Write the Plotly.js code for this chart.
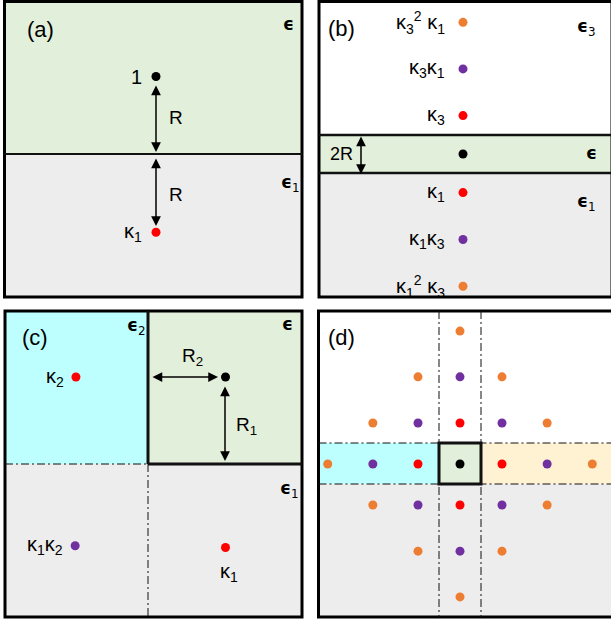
<!DOCTYPE html>
<html>
<head>
<meta charset="utf-8">
<script src="https://cdn.plot.ly/plotly-3.0.1.min.js"></script>
<style>html,body{margin:0;padding:0;background:#fff;}#chart{width:611px;height:622px;}</style>
</head>
<body>
<div id="chart"></div>
<script>
// ---------------- data ----------------
// panel (a): source and image along the normal, in units of R
const aX = [0, 0];
const aY = [1, -1.01];
const aOrder = [0, 1];
const aLabels = ["1", "κ<sub>1</sub>"];

// panel (b): images in a slab of thickness 2R, in units of R
const bX = [0, 0, 0, 0, 0, 0, 0];
const bY = [6.93, 4.48, 2.02, 0, -2.03, -4.5, -6.96];
const bOrder = [3, 2, 1, 0, 1, 2, 3];
const bLabels = ["κ<sub>3</sub><sup>2</sup> κ<sub>1</sub>", "κ<sub>3</sub>κ<sub>1</sub>", "κ<sub>3</sub>", "",
                 "κ<sub>1</sub>", "κ<sub>1</sub>κ<sub>3</sub>", "κ<sub>1</sub><sup>2</sup> κ<sub>3</sub>"];

// panel (c): corner geometry, x in units of R2, y in units of R1
const cX = [1, -0.93, -0.94, 1];
const cY = [1, 1, -0.94, -0.96];
const cOrder = [0, 1, 2, 1];
const cLabels = ["", "κ<sub>2</sub>", "κ<sub>1</sub>κ<sub>2</sub>", "κ<sub>1</sub>"];

// panel (d): image lattice, in units of half the strip width
const dX = [0,
            -2, 0, 2,
            -4.15, -2, 0, 2, 4.15,
            -6.3, -4.15, -2, 0, 2, 4.15, 6.3,
            -4.15, -2, 0, 2, 4.15,
            -2, 0, 2,
            0];
const dY = [6.33,
            4.15, 4.15, 4.15,
            1.95, 1.95, 1.95, 1.95, 1.95,
            0, 0, 0, 0, 0, 0, 0,
            -1.95, -1.95, -1.95, -1.95, -1.95,
            -4.15, -4.15, -4.15,
            -6.33];
const dOrder = [3,
                3, 2, 3,
                3, 2, 1, 2, 3,
                3, 2, 1, 0, 1, 2, 3,
                3, 2, 1, 2, 3,
                3, 2, 3,
                3];

const panelTags = ["(a)", "(b)", "(c)", "(d)"];

// ---------------- styles ----------------
const W = 611, H = 622;
const orderColors = ["#000000", "#ff0000", "#7030a0", "#ed7d31"];
const GREEN = "#e2efda", GRAY = "#ededed", CYAN = "#bdffff", YELLOW = "#fff2d3";
const FONT = "Liberation Sans, Arial, Helvetica, sans-serif";
const EPSFONT = "DejaVu Sans, sans-serif";
const LBL = 20;

function px(x) { return x / W; }
function py(y) { return 1 - y / H; }

// axis geometry: quadrant in pixels, origin in pixels, pixel size of one unit
function axes(quad, ox, oy, sx, sy) {
  const [L, R, T, B] = quad;
  return {
    x: {domain: [px(L), px(R)], range: [(L - ox) / sx, (R - ox) / sx], visible: false, fixedrange: true},
    y: {domain: [py(B), py(T)], range: [(oy - B) / sy, (oy - T) / sy], visible: false, fixedrange: true}
  };
}
const A = axes([0, 310, 0, 304], 156, 154, 77.5, 77.5);
const Bx = axes([310, 611, 0, 304], 463, 154, 19, 19);
const C = axes([0, 310, 304, 622], 148, 464, 77.5, 87);
const D = axes([310, 611, 304, 622], 460, 464, 21, 21);

const shapes = [];
function rect(x0, y0, x1, y1, fill, lw, lc) {
  shapes.push({type: "rect", xref: "paper", yref: "paper", x0: px(x0), x1: px(x1), y0: py(y1), y1: py(y0),
    fillcolor: fill || "rgba(0,0,0,0)", line: {width: lw || 0, color: lc || "#000"}, layer: "below"});
}
function line(x0, y0, x1, y1, lw, dash) {
  shapes.push({type: "line", xref: "paper", yref: "paper", x0: px(x0), x1: px(x1), y0: py(y0), y1: py(y1),
    line: {width: lw, color: "#111", dash: dash || "solid"}, layer: "above"});
}
const DD = "8px,3px,2px,3px";

// panel a
rect(4.5, 1.5, 302, 154, GREEN);
rect(4.5, 154, 302, 297, GRAY);
line(4.5, 154, 302, 154, 2);
rect(4.5, 1.5, 302, 297, null, 3);
// panel b
rect(319, 1.5, 614, 135, "#ffffff");
rect(319, 135, 614, 173, GREEN);
rect(319, 173, 614, 297, GRAY);
line(319, 135, 614, 135, 2.5);
line(319, 173, 614, 173, 2.5);
rect(319, 1.5, 612, 297, null, 3);
// panel c
rect(5, 311, 148, 464, CYAN);
rect(148, 311, 302, 464, GREEN);
rect(5, 464, 302, 617, GRAY);
line(5, 464, 148, 464, 1, DD);
line(148, 464, 148, 617, 1, DD);
line(148, 311, 148, 464, 3);
line(148, 464, 302, 464, 3);
rect(5, 311, 302, 617, null, 3);
// panel d
rect(318.5, 311, 615, 443, "#ffffff");
rect(318.5, 443, 439, 484, CYAN);
rect(439, 443, 481, 484, GREEN);
rect(481, 443, 615, 484, YELLOW);
rect(318.5, 484, 615, 617, GRAY);
line(439, 311, 439, 617, 1, DD);
line(481, 311, 481, 617, 1, DD);
line(318.5, 443, 615, 443, 1, DD);
line(318.5, 484, 615, 484, 1, DD);
shapes.push({type: "rect", xref: "paper", yref: "paper", x0: px(439), x1: px(481), y0: py(484), y1: py(443),
  line: {width: 3, color: "#111"}, fillcolor: "rgba(0,0,0,0)", layer: "above"});
rect(318.5, 311, 616, 617, null, 3);

// ---------------- annotations ----------------
const ann = [];
function txt(x, y, text, size, opts) {
  ann.push(Object.assign({xref: "paper", yref: "paper", x: px(x), y: py(y), text: text, showarrow: false,
    font: {family: FONT, size: size, color: "#000"}, xanchor: "center", yanchor: "middle"}, opts || {}));
}
function eps(x, y, sub) {
  txt(x, y, "<b>ϵ</b>" + (sub ? "<sub>" + sub + "</sub>" : ""), 17, {font: {family: EPSFONT, size: 17, color: "#000"}});
}
function arrow(x0, y0, x1, y1) {
  ann.push({xref: "paper", yref: "paper", x: px(x1), y: py(y1), axref: "pixel", ayref: "pixel",
    ax: x0 - x1, ay: y0 - y1, text: "", showarrow: true, arrowhead: 2, arrowside: "end+start",
    arrowwidth: 1.5, arrowsize: 1.3, arrowcolor: "#000", standoff: 0, startstandoff: 0});
}

// panel tags
txt(40, 30, panelTags[0], 22);
txt(341, 29, panelTags[1], 22);
txt(35, 337, panelTags[2], 22);
txt(341, 337, panelTags[3], 22);

// epsilons
eps(288, 24);
eps(290, 184, "1");
eps(586, 28, "3");
eps(591, 153);
eps(586, 203, "1");
eps(136, 326, "2");
eps(287, 324);
eps(289, 489, "1");

// distances
txt(176, 117, "R", 19);
txt(176, 194, "R", 19);
arrow(156, 84, 156, 152);
arrow(156, 157, 156, 226);
txt(341, 154, "2R", 18);
arrow(361, 135, 361, 174);
txt(192, 357, "R<sub>2</sub>", 19);
txt(247, 426, "R<sub>1</sub>", 19);
arrow(151, 377, 218, 377);
arrow(225, 385, 225, 461);

// dot labels
function dotLabels(xs, ys, labels, xr, yr, shift, anchor, yshift) {
  labels.forEach((t, i) => {
    if (!t) return;
    ann.push({xref: xr, yref: yr, x: xs[i], y: ys[i], text: t, showarrow: false,
      font: {family: FONT, size: LBL, color: "#000"}, xanchor: anchor, yanchor: "middle",
      xshift: shift, yshift: yshift});
  });
}
dotLabels(aX, aY, aLabels, "x", "y", -12, "right", 0);
dotLabels(bX, bY, bLabels, "x2", "y2", -16, "right", 0);
dotLabels(cX.slice(0, 3), cY.slice(0, 3), cLabels.slice(0, 3), "x3", "y3", -10, "right", 0);
ann.push({xref: "x3", yref: "y3", x: cX[3], y: cY[3], text: cLabels[3], showarrow: false,
  font: {family: FONT, size: LBL, color: "#000"}, xanchor: "center", yanchor: "middle", yshift: -25, xshift: 3});

// ---------------- traces ----------------
function dots(xs, ys, order, xa, ya) {
  return {type: "scatter", mode: "markers", x: xs, y: ys, xaxis: xa, yaxis: ya, hoverinfo: "skip",
    marker: {size: 9, color: order.map(o => orderColors[o]), line: {width: 0}}, cliponaxis: false};
}
const data = [
  dots(aX, aY, aOrder, "x", "y"),
  dots(bX, bY, bOrder, "x2", "y2"),
  dots(cX, cY, cOrder, "x3", "y3"),
  dots(dX, dY, dOrder, "x4", "y4")
];

const layout = {
  width: W, height: H, margin: {l: 0, r: 0, t: 0, b: 0},
  paper_bgcolor: "#ffffff", plot_bgcolor: "rgba(0,0,0,0)", showlegend: false,
  xaxis: Object.assign({anchor: "y"}, A.x), yaxis: Object.assign({anchor: "x"}, A.y),
  xaxis2: Object.assign({anchor: "y2"}, Bx.x), yaxis2: Object.assign({anchor: "x2"}, Bx.y),
  xaxis3: Object.assign({anchor: "y3"}, C.x), yaxis3: Object.assign({anchor: "x3"}, C.y),
  xaxis4: Object.assign({anchor: "y4"}, D.x), yaxis4: Object.assign({anchor: "x4"}, D.y),
  shapes: shapes, annotations: ann
};
Plotly.newPlot("chart", data, layout, {displayModeBar: false, staticPlot: true});
</script>
</body>
</html>
